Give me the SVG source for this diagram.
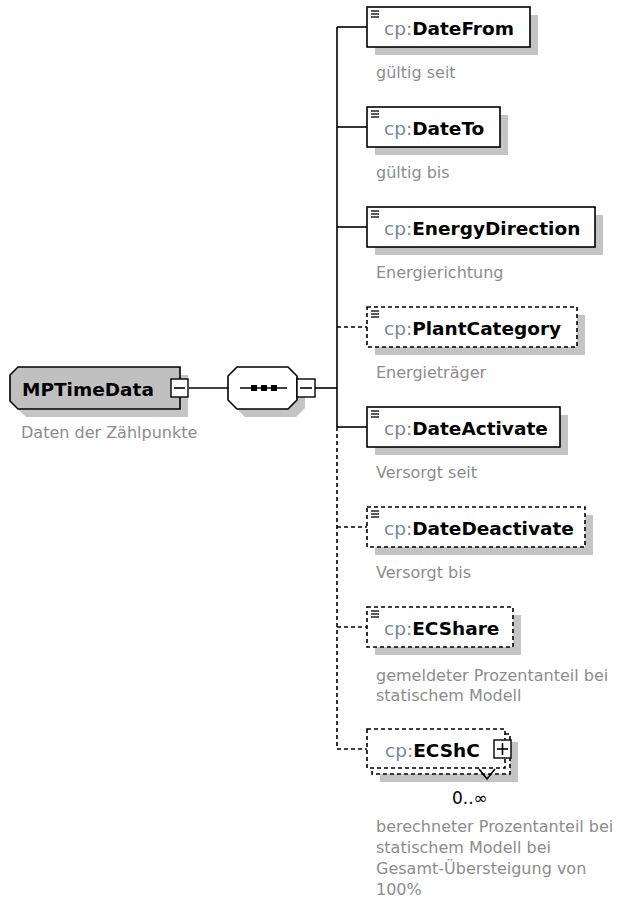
<svg xmlns="http://www.w3.org/2000/svg" width="618" height="903" viewBox="0 0 618 903">
<style>
.bg{fill:#ffffff}
.box{fill:#ffffff;stroke:#000;stroke-width:1.6}
.opt{fill:#ffffff;stroke:#000;stroke-width:1.6;stroke-dasharray:4,3}
.sh{fill:#c4c4c4}
.ln{stroke:#000;stroke-width:1.6;fill:none}
.dl{stroke:#000;stroke-width:1.6;fill:none;stroke-dasharray:4,3}
.ico{stroke:#000;stroke-width:1.3}
.nm{font-family:"DejaVu Sans",Verdana,sans-serif;font-size:18.5px}
.pf{fill:#76889a}
.b{font-weight:bold;fill:#000}
.ds{font-family:"DejaVu Sans",Verdana,sans-serif;font-size:16px;fill:#8c8c8c}
.btn{fill:#fff;stroke:#000;stroke-width:1.4}
</style>
<defs>
<g id="icon">
<line class="ico" x1="4" y1="4" x2="12" y2="4"/>
<line class="ico" x1="4" y1="7" x2="12" y2="7"/>
<line class="ico" x1="4" y1="10" x2="12" y2="10"/>
</g>
</defs>
<rect class="bg" x="0" y="0" width="618" height="903"/>

<g id="connectors">
<line class="ln" x1="189" y1="388" x2="228" y2="388"/>
<line class="ln" x1="315" y1="388" x2="337" y2="388"/>
<line class="ln" x1="337" y1="27" x2="337" y2="427"/>
<line class="dl" x1="337" y1="427" x2="337" y2="749"/>
<line class="ln" x1="337" y1="27" x2="367" y2="27"/>
<line class="ln" x1="337" y1="127" x2="367" y2="127"/>
<line class="ln" x1="337" y1="227" x2="367" y2="227"/>
<line class="dl" x1="337" y1="327" x2="367" y2="327"/>
<line class="ln" x1="337" y1="427" x2="367" y2="427"/>
<line class="dl" x1="337" y1="527" x2="367" y2="527"/>
<line class="dl" x1="337" y1="627" x2="367" y2="627"/>
<line class="dl" x1="337" y1="749" x2="367" y2="749"/>
</g>

<g id="MPTimeData">
<polygon class="sh" points="26,375 188,375 188,417 26,417 18,409 18,383"/>
<polygon fill="#c0c0c0" stroke="#000" stroke-width="1.6" points="18,367 180,367 180,409 18,409 10,401 10,375"/>
<text class="nm b" x="22" y="396">MPTimeData</text>
<rect class="btn" x="171" y="379" width="17" height="18"/>
<line class="ln" x1="174" y1="388" x2="185" y2="388" stroke-width="1.3"/>
<text class="ds" x="21" y="438">Daten der Zählpunkte</text>
</g>

<g id="sequence">
<polygon class="sh" points="245,375 296,375 305,384 305,408 296,417 245,417 236,408 236,384"/>
<polygon class="box" points="237,367 288,367 297,376 297,400 288,409 237,409 228,400 228,376"/>
<line class="ln" x1="240" y1="388" x2="287" y2="388"/>
<rect x="251" y="385" width="6" height="6" fill="#000"/>
<rect x="261" y="385" width="6" height="6" fill="#000"/>
<rect x="271" y="385" width="6" height="6" fill="#000"/>
<rect class="btn" x="297" y="379" width="18" height="18"/>
<line class="ln" x1="300" y1="388" x2="312" y2="388" stroke-width="1.3"/>
</g>

<g id="DateFrom">
<rect class="sh" x="375" y="15" width="163" height="40"/>
<rect class="box" x="367" y="7" width="163" height="40"/>
<use href="#icon" x="367" y="7"/>
<text class="nm" x="384" y="35"><tspan class="pf">cp:</tspan><tspan class="b">DateFrom</tspan></text>
<text class="ds" x="376" y="78">gültig seit</text>
</g>

<g id="DateTo">
<rect class="sh" x="375" y="115" width="133" height="40"/>
<rect class="box" x="367" y="107" width="133" height="40"/>
<use href="#icon" x="367" y="107"/>
<text class="nm" x="384" y="135"><tspan class="pf">cp:</tspan><tspan class="b">DateTo</tspan></text>
<text class="ds" x="376" y="178">gültig bis</text>
</g>

<g id="EnergyDirection">
<rect class="sh" x="375" y="215" width="228" height="40"/>
<rect class="box" x="367" y="207" width="228" height="40"/>
<use href="#icon" x="367" y="207"/>
<text class="nm" x="384" y="235"><tspan class="pf">cp:</tspan><tspan class="b">EnergyDirection</tspan></text>
<text class="ds" x="376" y="278">Energierichtung</text>
</g>

<g id="PlantCategory">
<rect class="sh" x="375" y="315" width="210" height="40"/>
<rect class="opt" x="367" y="307" width="210" height="40"/>
<use href="#icon" x="367" y="307"/>
<text class="nm" x="384" y="335"><tspan class="pf">cp:</tspan><tspan class="b">PlantCategory</tspan></text>
<text class="ds" x="376" y="378">Energieträger</text>
</g>

<g id="DateActivate">
<rect class="sh" x="375" y="415" width="193" height="40"/>
<rect class="box" x="367" y="407" width="193" height="40"/>
<use href="#icon" x="367" y="407"/>
<text class="nm" x="384" y="435"><tspan class="pf">cp:</tspan><tspan class="b">DateActivate</tspan></text>
<text class="ds" x="376" y="478">Versorgt seit</text>
</g>

<g id="DateDeactivate">
<rect class="sh" x="375" y="515" width="218" height="40"/>
<rect class="opt" x="367" y="507" width="218" height="40"/>
<use href="#icon" x="367" y="507"/>
<text class="nm" x="384" y="535"><tspan class="pf">cp:</tspan><tspan class="b">DateDeactivate</tspan></text>
<text class="ds" x="376" y="578">Versorgt bis</text>
</g>

<g id="ECShare">
<rect class="sh" x="375" y="615" width="146" height="40"/>
<rect class="opt" x="367" y="607" width="146" height="40"/>
<use href="#icon" x="367" y="607"/>
<text class="nm" x="384" y="635"><tspan class="pf">cp:</tspan><tspan class="b">ECShare</tspan></text>
<text class="ds" x="376" y="681">gemeldeter Prozentanteil bei</text>
<text class="ds" x="376" y="701">statischem Modell</text>
</g>

<g id="ECShC">
<rect class="sh" x="380" y="742" width="138" height="40"/>
<rect class="opt" x="372" y="734" width="138" height="40"/>
<rect class="opt" x="367" y="729" width="138" height="39"/>
<polyline class="ln" stroke-width="1.3" points="479,769 487,779 495,769"/>
<text class="nm" x="385" y="757"><tspan class="pf">cp:</tspan><tspan class="b">ECShC</tspan></text>
<rect class="btn" x="494" y="740" width="17" height="18"/>
<line class="ln" x1="497" y1="749" x2="508" y2="749" stroke-width="1.3"/>
<line class="ln" x1="502.5" y1="743" x2="502.5" y2="755" stroke-width="1.3"/>
<text x="452" y="804" font-family="DejaVu Sans,Verdana,sans-serif" font-size="17" fill="#000">0..∞</text>
<text class="ds" x="376" y="832">berechneter Prozentanteil bei</text>
<text class="ds" x="376" y="853">statischem Modell bei</text>
<text class="ds" x="376" y="874">Gesamt-Übersteigung von</text>
<text class="ds" x="376" y="895">100%</text>
</g>
</svg>
